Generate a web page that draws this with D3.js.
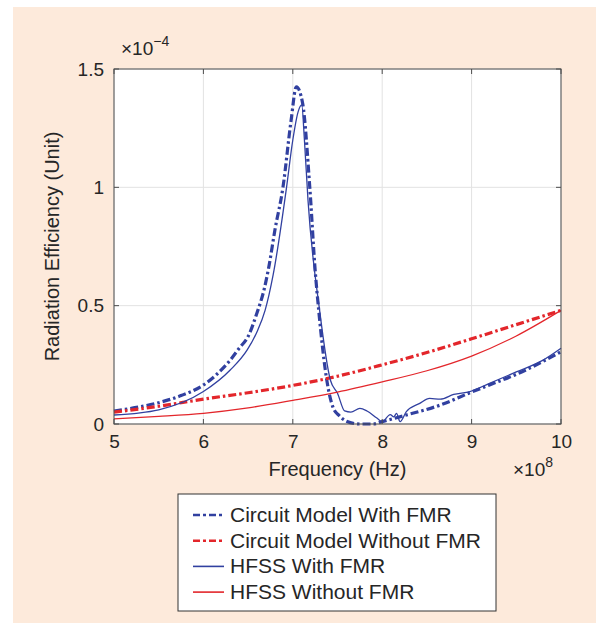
<!DOCTYPE html>
<html>
<head>
<meta charset="utf-8">
<script src="https://cdn.jsdelivr.net/npm/d3@7"></script>
<style>
  body { margin: 0; background: #fff; }
  svg { display: block; font-family: "Liberation Sans", Arial, Helvetica, sans-serif; }
</style>
</head>
<body>
<div id="chart"></div>
<script>
// frequency in units of 1e8 Hz, efficiency in units of 1e-4
var circuitFmrX = [5.0, 5.25, 5.5, 5.75, 6.0, 6.15, 6.3, 6.4, 6.5, 6.6, 6.68, 6.73, 6.8, 6.89, 6.98, 7.04, 7.11, 7.19, 7.25, 7.29, 7.38, 7.45, 7.52, 7.6, 7.75, 7.9, 8.0, 8.27, 8.65, 9.0, 9.2, 9.5, 10.0];
var circuitFmrY = [0.055, 0.07, 0.09, 0.12, 0.165, 0.21, 0.27, 0.32, 0.37, 0.47, 0.57, 0.66, 0.82, 1.0, 1.28, 1.425, 1.355, 1.0, 0.65, 0.48, 0.186, 0.07, 0.035, 0.012, 0.0, 0.0, 0.01, 0.038, 0.08, 0.135, 0.165, 0.21, 0.305];

var circuitNoFmrX = [5.0, 5.5, 6.0, 6.5, 7.0, 7.5, 8.0, 8.5, 9.0, 9.5, 10.0];
var circuitNoFmrY = [0.05, 0.075, 0.105, 0.132, 0.163, 0.202, 0.25, 0.302, 0.36, 0.42, 0.48];

var hfssFmrX = [5.0, 5.5, 6.0, 6.3, 6.49, 6.6, 6.69, 6.78, 6.93, 7.0, 7.06, 7.1, 7.13, 7.17, 7.3, 7.42, 7.5, 7.58, 7.65, 7.75, 7.83, 7.94, 8.0, 8.09, 8.13, 8.16, 8.2, 8.27, 8.42, 8.53, 8.65, 8.8, 8.98, 9.2, 9.5, 9.8, 10.0];
var hfssFmrY = [0.038, 0.06, 0.137, 0.228, 0.313, 0.39, 0.48, 0.63, 1.0, 1.2, 1.32, 1.348, 1.2, 0.946, 0.48, 0.186, 0.13, 0.055, 0.05, 0.066, 0.055, 0.025, 0.01, 0.04, 0.03, 0.045, 0.01, 0.052, 0.087, 0.108, 0.105, 0.125, 0.137, 0.172, 0.22, 0.27, 0.32];

var hfssNoFmrX = [5.0, 5.5, 6.0, 6.5, 7.0, 7.5, 8.0, 8.5, 9.0, 9.5, 10.0];
var hfssNoFmrY = [0.022, 0.032, 0.045, 0.068, 0.1, 0.135, 0.178, 0.225, 0.287, 0.372, 0.48];

var xTicks = [5, 6, 7, 8, 9, 10];
var yTicks = [0, 0.5, 1, 1.5];
var yTickLabels = ["0", "0.5", "1", "1.5"];
var legendLabels = ["Circuit Model With FMR", "Circuit Model Without FMR", "HFSS With FMR", "HFSS Without FMR"];

var blue = "#3140a0", red = "#e3262b";

var width = 596, height = 623;
var margin = { top: 69, right: 35, bottom: 199, left: 114 };

var svg = d3.select("#chart")
            .append("svg")
            .attr("width", width)
            .attr("height", height);

// peach panel
svg.append("rect")
   .attr("x", 13)
   .attr("y", 7)
   .attr("width", width - 13)
   .attr("height", height - 7)
   .attr("fill", "#fdeadb");

var x = d3.scaleLinear().domain([5, 10]).range([margin.left, width - margin.right - 0]);
var y = d3.scaleLinear().domain([0, 1.5]).range([height - margin.bottom - 0, margin.top]);

var x0 = x.range()[0], x1 = x.range()[1], y0 = y.range()[0], y1 = y.range()[1];

svg.append("rect")
   .attr("x", x0)
   .attr("y", y1)
   .attr("width", x1 - x0)
   .attr("height", y0 - y1)
   .attr("fill", "#fff");

// grid
xTicks.forEach(function (t) {
  svg.append("line")
     .attr("x1", x(t)).attr("x2", x(t))
     .attr("y1", y0).attr("y2", y1)
     .attr("stroke", "#e2e2e2").attr("stroke-width", 1);
});
yTicks.forEach(function (t) {
  svg.append("line")
     .attr("x1", x0).attr("x2", x1)
     .attr("y1", y(t)).attr("y2", y(t))
     .attr("stroke", "#e2e2e2").attr("stroke-width", 1);
});

// curves
var plot = svg.append("g");
var line = d3.line()
             .x(function (d) { return x(d[0]); })
             .y(function (d) { return y(d[1]); })
             .curve(d3.curveMonotoneX);

function zip(xs, ys) {
  return xs.map(function (v, i) { return [v, ys[i]]; });
}

var series = [
  { xs: circuitFmrX, ys: circuitFmrY, color: blue, dash: "8,3,2.5,3", w: 3.2 },
  { xs: circuitNoFmrX, ys: circuitNoFmrY, color: red, dash: "8,3,2.5,3", w: 3.2 },
  { xs: hfssFmrX, ys: hfssFmrY, color: blue, dash: null, w: 1.3 },
  { xs: hfssNoFmrX, ys: hfssNoFmrY, color: red, dash: null, w: 1.3 }
];

series.forEach(function (s) {
  plot.append("path")
      .datum(zip(s.xs, s.ys))
      .attr("d", line)
      .attr("fill", "none")
      .attr("stroke", s.color)
      .attr("stroke-width", s.w)
      .attr("stroke-dasharray", s.dash);
});

// axes box and ticks
var axisColor = "#4d4d4d";
svg.append("rect")
   .attr("x", x0).attr("y", y1)
   .attr("width", x1 - x0).attr("height", y0 - y1)
   .attr("fill", "none")
   .attr("stroke", axisColor).attr("stroke-width", 1);

var xAxis = d3.axisBottom(x).tickValues(xTicks).tickSize(0).tickPadding(11)
              .tickFormat(d3.format("d"));
var gx = svg.append("g").attr("transform", "translate(0," + y0 + ")").call(xAxis);
gx.select(".domain").remove();
gx.selectAll("text").attr("font-size", 19).attr("fill", "#262626")
  .attr("font-family", "Liberation Sans, Arial, sans-serif");

var yAxis = d3.axisLeft(y).tickValues(yTicks).tickSize(0).tickPadding(10)
              .tickFormat(function (d, i) { return yTickLabels[i]; });
var gy = svg.append("g").attr("transform", "translate(" + x0 + ",0)").call(yAxis);
gy.select(".domain").remove();
gy.selectAll("text").attr("font-size", 19).attr("fill", "#262626")
  .attr("font-family", "Liberation Sans, Arial, sans-serif");

xTicks.forEach(function (t) {
  svg.append("line").attr("x1", x(t)).attr("x2", x(t)).attr("y1", y0).attr("y2", y0 - 5)
     .attr("stroke", axisColor);
  svg.append("line").attr("x1", x(t)).attr("x2", x(t)).attr("y1", y1).attr("y2", y1 + 5)
     .attr("stroke", axisColor);
});
yTicks.forEach(function (t) {
  svg.append("line").attr("x1", x0).attr("x2", x0 + 5).attr("y1", y(t)).attr("y2", y(t))
     .attr("stroke", axisColor);
  svg.append("line").attr("x1", x1).attr("x2", x1 - 5).attr("y1", y(t)).attr("y2", y(t))
     .attr("stroke", axisColor);
});

// labels
svg.append("text")
   .attr("x", (x0 + x1) / 2)
   .attr("y", 476)
   .attr("text-anchor", "middle")
   .attr("font-size", 20)
   .attr("fill", "#262626")
   .text("Frequency (Hz)");

svg.append("text")
   .attr("transform", "translate(59," + ((y0 + y1) / 2) + ") rotate(-90)")
   .attr("text-anchor", "middle")
   .attr("font-size", 20)
   .attr("fill", "#262626")
   .text("Radiation Efficiency (Unit)");

var e1 = svg.append("text").attr("x", 121).attr("y", 55).attr("font-size", 19).attr("fill", "#262626");
e1.append("tspan").text("\u00d710");
e1.append("tspan").attr("dy", -9).attr("font-size", 14).text("\u22124");

var e2 = svg.append("text").attr("x", 513).attr("y", 476).attr("font-size", 19).attr("fill", "#262626");
e2.append("tspan").text("\u00d710");
e2.append("tspan").attr("dy", -9).attr("font-size", 14).text("8");

// legend
var lg = svg.append("g");
lg.append("rect")
  .attr("x", 178).attr("y", 494)
  .attr("width", 318).attr("height", 117)
  .attr("fill", "#fff")
  .attr("stroke", "#333").attr("stroke-width", 1);

legendLabels.forEach(function (label, i) {
  var s = series[i];
  var ly = 515 + i * 25.7;
  lg.append("line")
    .attr("x1", 193).attr("x2", 224)
    .attr("y1", ly).attr("y2", ly)
    .attr("stroke", s.color)
    .attr("stroke-width", s.dash ? 2.6 : 1.6)
    .attr("stroke-dasharray", s.dash ? "7,3,3,3" : null);
  lg.append("text")
    .attr("x", 230)
    .attr("y", ly + 7)
    .attr("font-size", 21)
    .attr("fill", "#262626")
    .text(label);
});
</script>
</body>
</html>
